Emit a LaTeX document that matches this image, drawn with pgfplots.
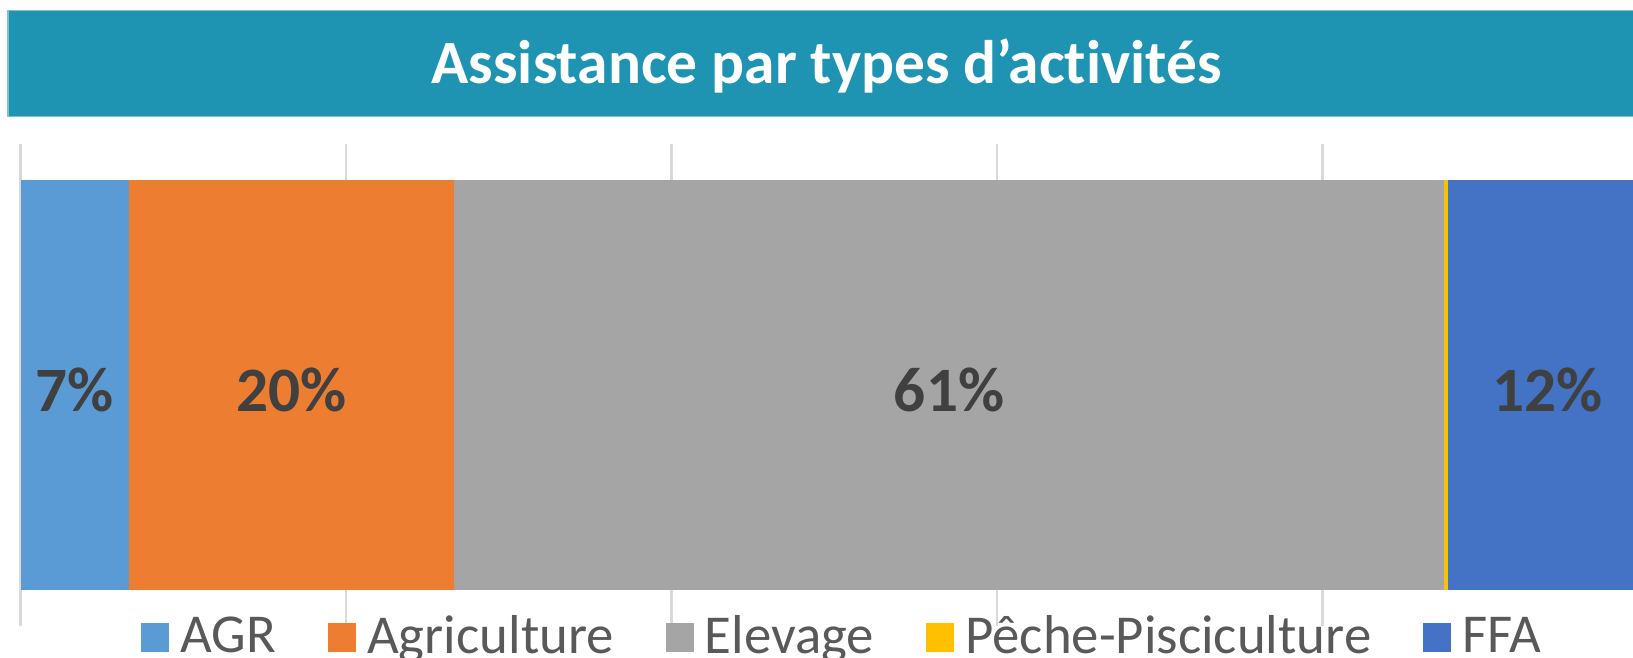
\documentclass[border=0pt]{standalone}
\usepackage{fontspec}
\setmainfont{Carlito}[Ligatures={NoCommon}]
\usepackage{pgfplots}
\pgfplotsset{compat=1.18}
\definecolor{banner}{HTML}{1E93B2}
\definecolor{bannerEdge}{HTML}{7FC0D6}
\definecolor{cAGR}{HTML}{5B9BD5}
\definecolor{cAgri}{HTML}{ED7D31}
\definecolor{cElev}{HTML}{A5A5A5}
\definecolor{cPeche}{HTML}{FFC000}
\definecolor{cFFA}{HTML}{4472C4}
\definecolor{labgray}{HTML}{404040}
\definecolor{leggray}{HTML}{595959}
\definecolor{gridgray}{HTML}{D9D9D9}
\tikzset{barlab/.style={anchor=base,yshift=-0.264cm,text=labgray,font=\fontsize{18}{21}\selectfont\bfseries}}
\begin{document}
\begin{tikzpicture}
\fill[banner,draw=bannerEdge,line width=0.5pt] (0.083,5.414) rectangle (16.6,6.476);
\node[anchor=base,text=white,font=\fontsize{17.5}{21}\selectfont\bfseries] at (8.265,5.747) {Assistance par types d’activités};
\begin{axis}[
  at={(0.208cm,0.32cm)}, anchor=south west,
  scale only axis,
  width=16.122cm, height=4.82cm,
  xmin=0, xmax=99.1, ymin=-1, ymax=1,
  xbar stacked,
  bar width=4.09cm,
  ytick=\empty,
  xtick={0,20,40,60,80,100},
  xticklabels={},
  major tick length=0pt,
  xmajorgrids,
  grid style={color=gridgray,line width=0.75pt},
  axis line style={draw=none},
  legend columns=-1,
  legend style={draw=none, fill=none, at={(0.5112,-0.0239)}, anchor=center,
    inner sep=0pt,
    font=\fontsize{15.6}{18}\selectfont, text=leggray,
    /tikz/every odd column/.append style={column sep=0.04cm},
    /tikz/every even column/.append style={column sep=0.45cm}},
  legend image code/.code={\fill[#1] (0cm,-0.145cm) rectangle (0.28cm,0.145cm);},
]
\addplot[fill=cAGR,draw=none] coordinates {(6.66,0)};
\addplot[fill=cAgri,draw=none] coordinates {(19.97,0)};
\addplot[fill=cElev,draw=none] coordinates {(60.86,0)};
\addplot[fill=cPeche,draw=none] coordinates {(0.25,0)};
\addplot[fill=cFFA,draw=none] coordinates {(12.26,0)};
\legend{AGR,Agriculture,Elevage,Pêche-Pisciculture,FFA}
\coordinate (l1) at (axis cs:3.33,0);
\coordinate (l2) at (axis cs:16.645,0);
\coordinate (l3) at (axis cs:57.06,0);
\coordinate (l4) at (axis cs:93.87,0);
\end{axis}
\node[barlab] at (l1) {7\%};
\node[barlab] at (l2) {20\%};
\node[barlab] at (l3) {61\%};
\node[barlab] at (l4) {12\%};
\pgfresetboundingbox
\path (0,0) rectangle (16.33,6.58);
\end{tikzpicture}
\end{document}
